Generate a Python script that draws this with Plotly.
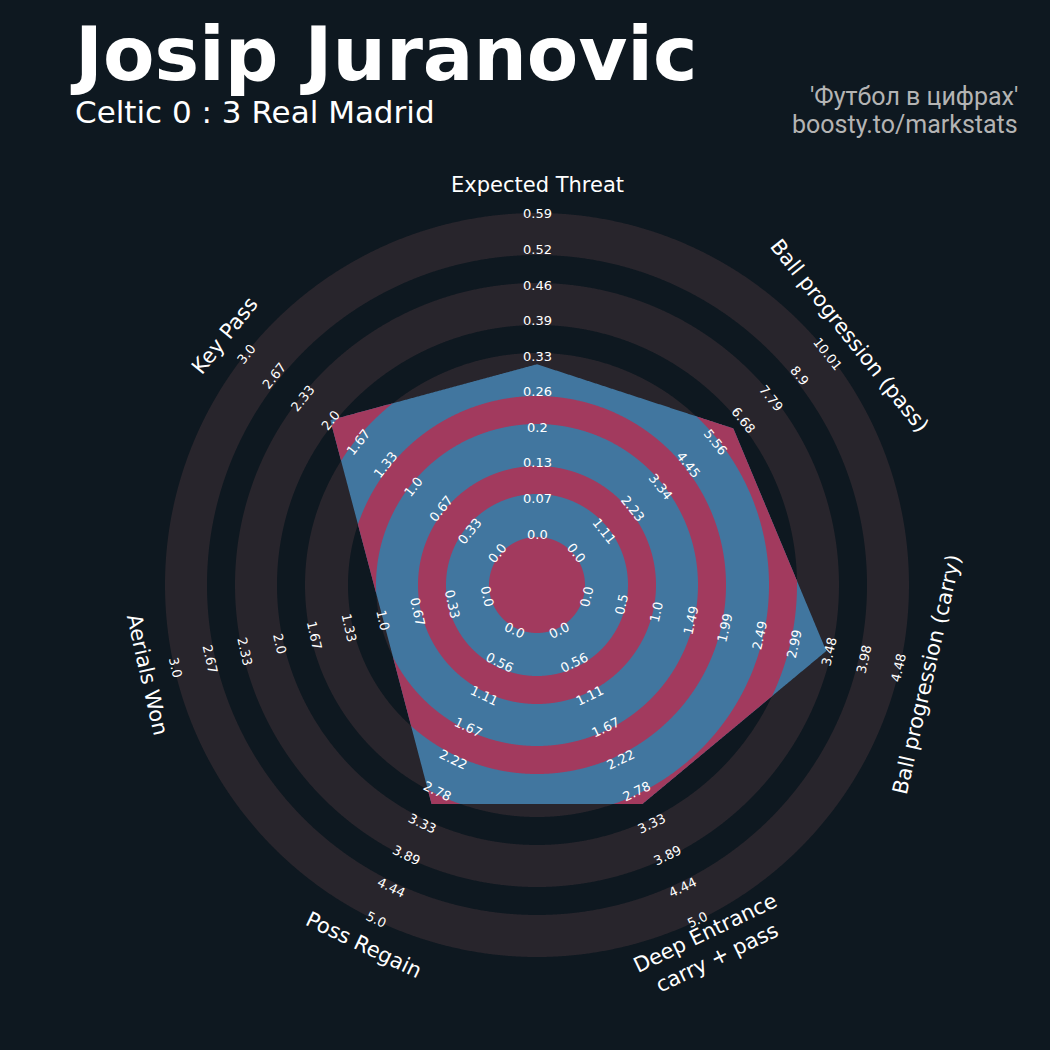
import numpy as np
import plotly.graph_objects as go

# ---------------- data ----------------
params = ["Expected Threat", "Ball progression (pass)", "Ball progression (carry)",
          "Deep Entrance<br>carry + pass", "Poss Regain", "Aerials Won", "Key Pass"]
low = [0.0, 0.0, 0.0, 0.0, 0.0, 0.0, 0.0]
high = [0.59, 10.01, 4.48, 5.0, 5.0, 3.0, 3.0]
values = [0.313, 6.26, 3.44, 3.0, 3.0, 1.0, 2.0]

labels_xt = ["0.0", "0.07", "0.13", "0.2", "0.26", "0.33", "0.39", "0.46", "0.52", "0.59"]
labels_pass = ["0.0", "1.11", "2.23", "3.34", "4.45", "5.56", "6.68", "7.79", "8.9", "10.01"]
labels_carry = ["0.0", "0.5", "1.0", "1.49", "1.99", "2.49", "2.99", "3.48", "3.98", "4.48"]
labels_deep = ["0.0", "0.56", "1.11", "1.67", "2.22", "2.78", "3.33", "3.89", "4.44", "5.0"]
labels_regain = ["0.0", "0.56", "1.11", "1.67", "2.22", "2.78", "3.33", "3.89", "4.44", "5.0"]
labels_aerial = ["0.0", "0.33", "0.67", "1.0", "1.33", "1.67", "2.0", "2.33", "2.67", "3.0"]
labels_keypass = ["0.0", "0.33", "0.67", "1.0", "1.33", "1.67", "2.0", "2.33", "2.67", "3.0"]
range_labels = [labels_xt, labels_pass, labels_carry, labels_deep, labels_regain,
                labels_aerial, labels_keypass]

title = "Josip Juranovic"
subtitle = "Celtic 0 : 3 Real Madrid"
credit = ["'Футбол в цифрах'", "boosty.to/markstats"]

# ---------------- style / layout ----------------
W = 1050
CX, CY = 537, 585          # centre of radar in px (from top-left)
RAX = 380                  # radial axis extent (px units)
R0, R1 = 51.0, 371.0       # radius of min / max value
BG = "#0e1820"
GRAY = "#28252c"
BLUE = "#41769f"
RED = "#a23a5e"
gray_bands = [(48, 91), (119, 161), (189, 232), (260, 302), (330, 372)]
red_bands = [(0, 48), (91, 119), (161, 189), (232, 260), (302, 330)]

n = len(params)
step = 360.0 / n
angles = np.arange(n) * step
radii = np.array([R0 + (v - lo) / (hi - lo) * (R1 - R0) for v, lo, hi in zip(values, low, high)])

# polygon vertices (x right, y up, theta clockwise from top)
px = radii * np.sin(np.radians(angles))
py = radii * np.cos(np.radians(angles))


def rho(theta):
    theta = np.asarray(theta) % 360.0
    out = np.empty_like(theta, dtype=float)
    for j, t in enumerate(theta):
        i = int(t // step) % n
        k = (i + 1) % n
        dx, dy = px[k] - px[i], py[k] - py[i]
        ux, uy = np.sin(np.radians(t)), np.cos(np.radians(t))
        out[j] = (px[i] * dy - py[i] * dx) / (ux * dy - uy * dx)
    return out


grid = np.union1d(np.arange(0, 360, 0.2), angles)
grid = np.append(grid, 360.0)
poly_r = rho(grid)

fig = go.Figure()


def band_trace(outer, inner, color):
    return go.Scatterpolar(
        r=np.concatenate([outer, inner[::-1]]),
        theta=np.concatenate([grid, grid[::-1]]),
        mode="lines", fill="toself", fillcolor=color,
        line=dict(width=0, color=color), hoverinfo="skip", showlegend=False)


for a, b in gray_bands:
    fig.add_trace(band_trace(np.full_like(grid, b), np.full_like(grid, a), GRAY))

fig.add_trace(go.Scatterpolar(r=poly_r, theta=grid, mode="lines", fill="toself",
                              fillcolor=BLUE, line=dict(width=0, color=BLUE),
                              hoverinfo="skip", showlegend=False))

for a, b in red_bands:
    outer = np.clip(poly_r, a, b)
    fig.add_trace(band_trace(outer, np.full_like(grid, a), RED))

dom_x = [(CX - RAX) / W, (CX + RAX) / W]
dom_y = [(W - CY - RAX) / W, (W - CY + RAX) / W]

fig.update_layout(
    width=W, height=W, margin=dict(l=0, r=0, t=0, b=0),
    paper_bgcolor=BG, plot_bgcolor=BG, showlegend=False,
    polar=dict(domain=dict(x=dom_x, y=dom_y), bgcolor="rgba(0,0,0,0)",
               radialaxis=dict(range=[0, RAX], visible=False),
               angularaxis=dict(rotation=90, direction="clockwise", visible=False,
                                thetaunit="degrees")),
)


def rot(t):
    if t <= 90:
        return t
    if t < 270:
        return t - 180
    return t - 360


def to_paper(r, t):
    x = CX + r * np.sin(np.radians(t))
    y = CY - r * np.cos(np.radians(t))
    return x / W, (W - y) / W


annotations = []
for i, t in enumerate(angles):
    for k, lab in enumerate(range_labels[i]):
        r = R0 + k / 9 * (R1 - R0)
        xp, yp = to_paper(r, t)
        annotations.append(dict(x=xp, y=yp, xref="paper", yref="paper", text=lab,
                                showarrow=False, textangle=rot(t), xanchor="center",
                                yanchor="middle",
                                font=dict(family="DejaVu Sans", size=13, color="#ffffff")))
    xp, yp = to_paper(400, t)
    annotations.append(dict(x=xp, y=yp, xref="paper", yref="paper", text=params[i],
                            showarrow=False, textangle=rot(t), xanchor="center",
                            yanchor="middle",
                            font=dict(family="DejaVu Sans", size=21, color="#ffffff")))

annotations.append(dict(x=68 / W, y=(W - 54) / W, xref="paper", yref="paper", text=title,
                        showarrow=False, xanchor="left", yanchor="middle",
                        font=dict(family="DejaVu Sans", size=75, color="#ffffff",
                                  weight="bold")))
annotations.append(dict(x=73 / W, y=(W - 112) / W, xref="paper", yref="paper", text=subtitle,
                        showarrow=False, xanchor="left", yanchor="middle",
                        font=dict(family="DejaVu Sans", size=31, color="#ffffff")))
annotations.append(dict(x=1020 / W, y=(W - 97) / W, xref="paper", yref="paper", text=credit[0],
                        showarrow=False, xanchor="right", yanchor="middle",
                        font=dict(family="Roboto", size=25, color="#b4b4b4")))
annotations.append(dict(x=1020 / W, y=(W - 124) / W, xref="paper", yref="paper", text=credit[1],
                        showarrow=False, xanchor="right", yanchor="middle",
                        font=dict(family="Roboto", size=25, color="#b4b4b4")))

fig.update_layout(annotations=annotations)
fig.write_html("out.html", config={"displayModeBar": False},
               post_script="document.body.style.margin='0';document.body.style.background='%s';" % BG)
